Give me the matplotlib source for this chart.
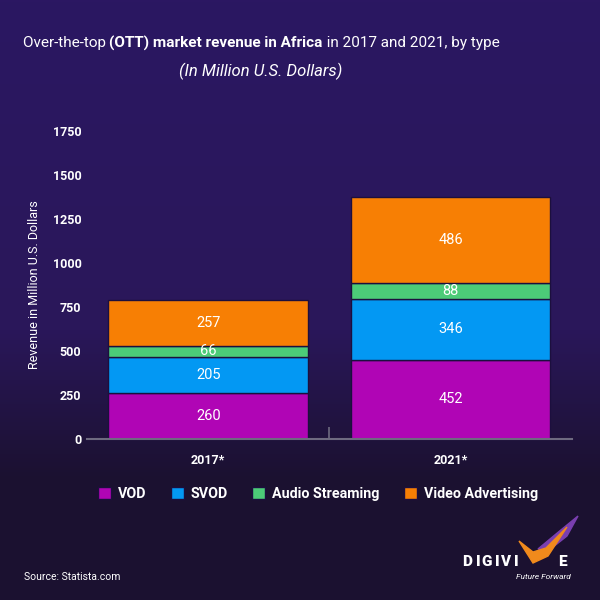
import matplotlib

matplotlib.use("Agg")
import matplotlib.pyplot as plt
import numpy as np
from matplotlib.patches import Polygon

plt.rcParams["font.family"] = ["Roboto", "DejaVu Sans"]

years = ["2017*", "2021*"]
series = ["VOD", "SVOD", "Audio Streaming", "Video Advertising"]
vod = [260, 452]
svod = [205, 346]
audio = [66, 88]
video_ads = [257, 486]
y_ticks = [0, 250, 500, 750, 1000, 1250, 1500, 1750]

colors = ["#B005B5", "#0398F3", "#4CCB78", "#F77F04"]
white = "#FFFFFF"


def px(x, y):
    # pixel position (from top-left) to figure fraction
    return (x / 600, 1 - y / 600)


fig = plt.figure(figsize=(6, 6), dpi=100)

# background gradient
bg = fig.add_axes([0, 0, 1, 1], zorder=-10)
top = np.array([0x2B, 0x17, 0x62]) / 255
mid = np.array([0x2A, 0x17, 0x5A]) / 255
bot = np.array([0x1B, 0x11, 0x30]) / 255
t = np.linspace(0, 1, 300)[:, None]
grad = np.where(t < 0.55, top + (mid - top) * (t / 0.55),
                mid + (bot - mid) * ((t - 0.55) / 0.25).clip(0, 1))
bg.imshow(grad[:, None, :].repeat(2, axis=1), aspect="auto", extent=(0, 1, 0, 1))
bg.set_axis_off()

ax = fig.add_axes([0.145, 0.268, 0.808, 0.514])
ax.set_facecolor("none")
x = np.arange(len(years))
bottom = np.zeros(len(years))
for name, values, color in zip(series, [vod, svod, audio, video_ads], colors):
    ax.bar(x, values, width=0.823, bottom=bottom, color=color,
           edgecolor="#1C0F3E", linewidth=1.0, label=name)
    for xi, b, v in zip(x, bottom, values):
        ax.text(xi, b + v / 2, f"{v}", ha="center", va="center",
                color=white, fontsize=10.5)
    bottom += np.array(values)

ax.set_xlim(-0.5, 1.5)
ax.set_ylim(0, 1750)
ax.set_yticks(y_ticks)
ax.set_yticklabels([str(v) for v in y_ticks], fontweight="bold", color=white, fontsize=9)
ax.set_xticks(x)
ax.set_xticklabels(years, fontweight="bold", color=white, fontsize=9)
ax.tick_params(axis="y", length=0, pad=4)
ax.tick_params(axis="x", length=0, pad=11)
ax.set_xticks([0.5], minor=True)
ax.tick_params(axis="x", which="minor", direction="in", length=9, color="#6E6A80", width=1.2)
for side in ["top", "right", "left"]:
    ax.spines[side].set_visible(False)
ax.spines["bottom"].set_color("#6E6A80")
ax.spines["bottom"].set_linewidth(1.5)
ax.set_ylabel("Revenue in Million U.S. Dollars", color=white, fontsize=9, labelpad=8)

leg = fig.legend(loc="center", bbox_to_anchor=px(318, 494), ncol=4,
                 frameon=False, handlelength=0.9, handleheight=0.9,
                 columnspacing=1.7, handletextpad=0.5,
                 prop={"weight": "bold", "size": 10.3})
for text in leg.get_texts():
    text.set_color(white)

# title with mixed weights
parts = [("Over-the-top ", "normal"), ("(OTT) market revenue in Africa", "bold"),
         (" in 2017 and 2021, by type", "normal")]
fig.canvas.draw()
renderer = fig.canvas.get_renderer()
pieces = []
total = 0
for s, w in parts:
    tx = fig.text(0, 0, s, fontsize=11, fontweight=w, color=white, va="center")
    width = tx.get_window_extent(renderer).width
    pieces.append((tx, width))
    total += width
start = 261 - total / 2
for tx, width in pieces:
    tx.set_position(px(start, 43))
    start += width
fig.text(*px(261, 71), "(In Million U.S. Dollars)", ha="center", va="center",
         fontsize=12, style="italic", color=white)

fig.text(*px(24, 577), "Source: Statista.com", ha="left", va="center",
         fontsize=7.5, color=white)

# logo
fig.patches.append(Polygon([px(538, 549), px(556, 534), px(578, 516), px(567, 536), px(548, 551)],
                           closed=True, transform=fig.transFigure, color="#7A3FB0", zorder=1))
fig.patches.append(Polygon([px(519, 541), px(533, 563), px(548, 556), px(567, 527),
                            px(546, 548), px(533, 552)],
                           closed=True, transform=fig.transFigure, color="#F08A1C", zorder=2))
for letter, lx in zip("DIGIVI", [462, 476, 481, 495, 500, 514]):
    fig.text(*px(lx, 562), letter, ha="left", va="center", fontsize=11,
             fontweight="black", color=white, zorder=3)
fig.text(*px(558, 562), "E", ha="left", va="center", fontsize=11,
         fontweight="black", color=white, zorder=3)
fig.text(*px(543, 577), "Future Forward", ha="center", va="center", fontsize=6,
         style="italic", color=white, zorder=3)

fig.savefig("out.png", dpi=100)
